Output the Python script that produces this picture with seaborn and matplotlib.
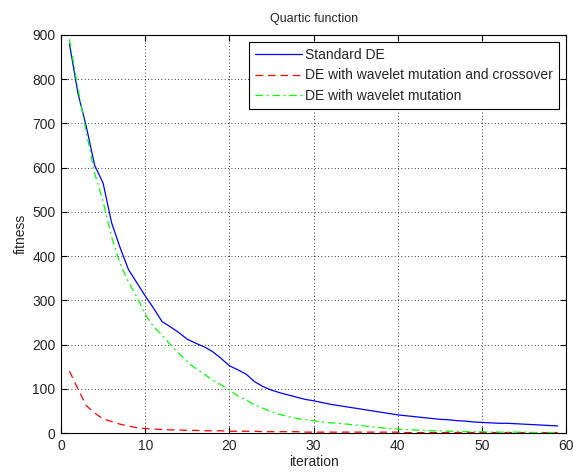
import numpy as np
import pandas as pd
import seaborn as sns
import matplotlib
matplotlib.use("Agg")
import matplotlib.pyplot as plt

iterations = list(range(1, 60))

standard_de = [880, 769, 693, 605, 565, 476, 420, 370, 340, 310,
               282, 252, 240, 227, 212, 203, 195, 184, 169, 152,
               143, 133, 116, 105, 97, 91, 86, 81, 76, 73,
               69, 65, 62, 59, 56, 53, 50, 47, 44, 41,
               39, 37, 35, 33, 31, 30, 28, 27, 25, 24,
               23, 22, 22, 21, 20, 19, 18, 17, 16]

wavelet_mut = [890, 780, 680, 587, 523, 444, 384, 342, 308, 268,
               240, 222, 199, 180, 161, 146, 133, 120, 109, 97,
               84, 75, 63, 56, 48, 42, 37, 33, 30, 28,
               25, 23, 22, 20, 18, 16, 14, 12, 10, 9,
               8, 7, 6, 5, 5, 4, 4, 3, 3, 3,
               2, 2, 2, 2, 2, 1, 1, 1, 1]

wavelet_mut_cx = [140, 100, 62, 45, 32, 26, 20, 16, 12, 10,
                  9, 8, 7, 7, 6, 6, 5, 5, 5, 4,
                  4, 4, 4, 3, 3, 3, 3, 3, 2, 2,
                  2, 2, 2, 2, 2, 2, 2, 2, 2, 2,
                  1, 1, 1, 1, 1, 1, 1, 1, 1, 1,
                  1, 1, 1, 1, 1, 1, 1, 1, 1]

labels = ["Standard DE", "DE with wavelet mutation and crossover", "DE with wavelet mutation"]

df = pd.DataFrame({
    "iteration": iterations * 3,
    "fitness": standard_de + wavelet_mut_cx + wavelet_mut,
    "method": [labels[0]] * 59 + [labels[1]] * 59 + [labels[2]] * 59,
})

sns.set_style("white")
plt.rcParams["font.family"] = ["Liberation Sans", "DejaVu Sans"]
plt.rcParams["font.size"] = 8

fig = plt.figure(figsize=(5.73, 4.76), dpi=100)
ax = fig.add_axes([0.1065, 0.0903, 0.8815, 0.8362])

palette = {labels[0]: "#0000ff", labels[1]: "#ff0000", labels[2]: "#00ff00"}
dashes = {labels[0]: "", labels[1]: (6, 4), labels[2]: (6, 3, 1.5, 3)}
sns.lineplot(data=df, x="iteration", y="fitness", hue="method", style="method",
             palette=palette, dashes=dashes, ax=ax, linewidth=0.9,
             hue_order=labels, style_order=labels)

ax.set_xlim(0, 60)
ax.set_ylim(0, 900)
ax.set_xticks(range(0, 61, 10))
ax.set_yticks(range(0, 901, 100))
ax.grid(True, color="black", linestyle=(0, (1, 3)), linewidth=0.6)
for s in ax.spines.values():
    s.set_color("black")
    s.set_linewidth(0.8)
ax.tick_params(direction="in", length=4, color="black", labelsize=10,
               top=True, right=True, bottom=True, left=True, pad=4)
ax.set_xlabel("iteration", fontsize=10, labelpad=2)
ax.set_ylabel("fitness", fontsize=10, labelpad=3)
ax.set_title("Quartic function", fontsize=9, pad=9)

leg = ax.legend(loc="upper right", fontsize=10, frameon=True, fancybox=False,
                edgecolor="black", framealpha=1, borderaxespad=0.5,
                handlelength=3.4, handletextpad=0.2, labelspacing=0.45,
                borderpad=0.45)
leg.get_frame().set_linewidth(0.8)

fig.savefig("out.png", dpi=100)
